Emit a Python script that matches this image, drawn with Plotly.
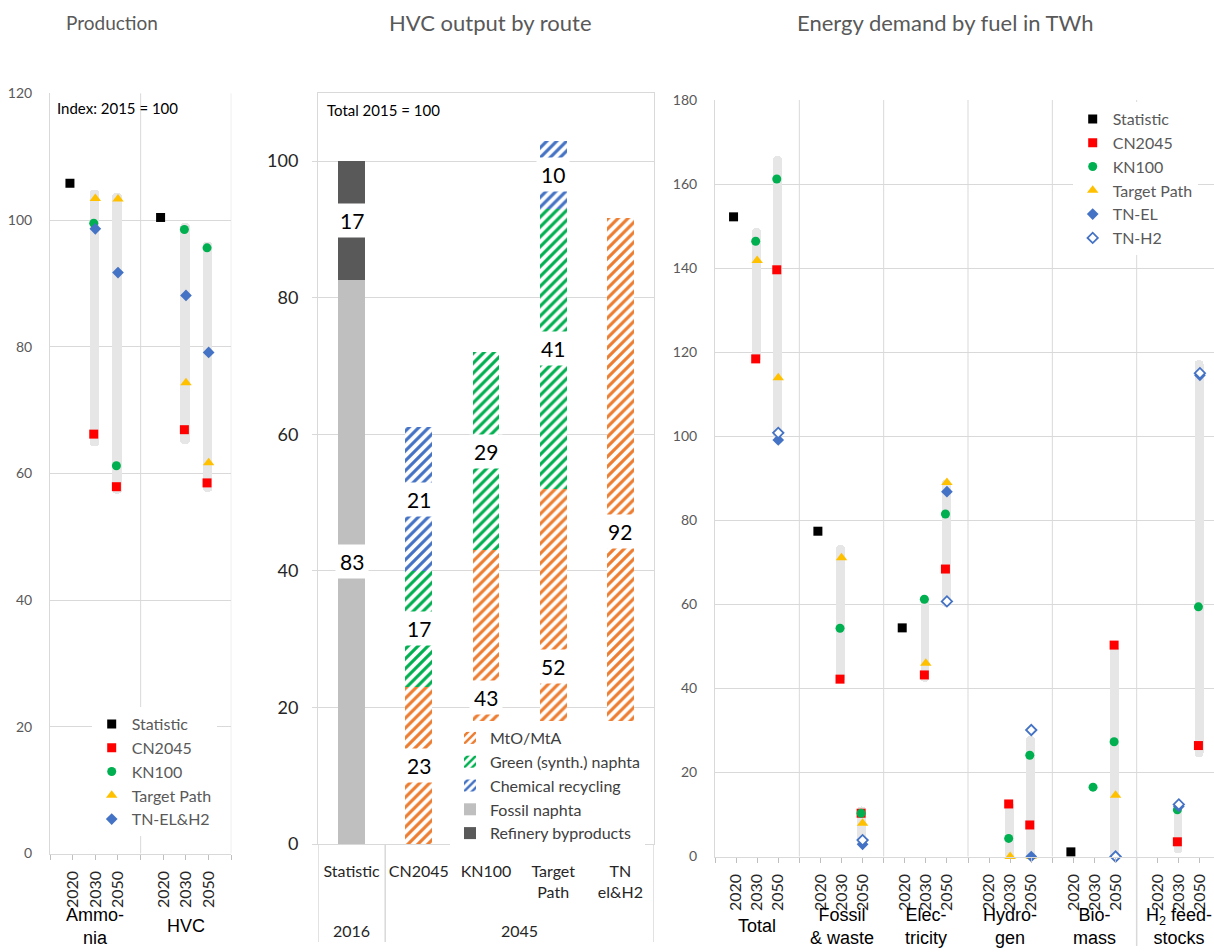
import plotly.graph_objects as go

W, H = 1214, 952

# ---------------- data ----------------
years = ["2020", "2030", "2050"]

# Panel 1: Production (Index 2015 = 100)
prod_groups = ["Ammo-<br>nia", "HVC"]
prod_statistic = [105.8, None, None, 100.4, None, None]
prod_cn2045 = [None, 66.2, 57.9, None, 66.9, 58.5]
prod_kn100 = [None, 99.5, 61.2, None, 98.5, 95.6]
prod_target = [None, 103.4, 103.3, None, 74.3, 61.7]
prod_tn_elh2 = [None, 98.6, 91.7, None, 88.1, 79.1]
prod_range_low = [None, 64.3, 56.8, None, 64.6, 57.1]
prod_range_high = [None, 104.8, 104.3, None, 99.5, 96.6]

# Panel 2: HVC output by route (Total 2015 = 100)
hvc_categories = ["Statistic", "CN2045", "KN100", "Target<br>Path", "TN<br>el&H2"]
hvc_periods = ["2016", "2045", "2045", "2045", "2045"]
hvc_mto = [None, 23, 43, 52, 91.6]
hvc_green = [None, 17, 29, 41, None]
hvc_chem = [None, 21, None, 10, None]
hvc_fossil = [82.6, None, None, None, None]
hvc_refinery = [17.4, None, None, None, None]

# Panel 3: Energy demand by fuel in TWh
energy_groups = ["Total", "Fossil<br>& waste", "Elec-<br>tricity", "Hydro-<br>gen",
                 "Bio-<br>mass", "H<sub>2</sub> feed-<br>stocks"]
energy_statistic = [152.2, None, None, 77.4, None, None, 54.4, None, None,
                    None, None, None, 1.1, None, None, None, None, None]
energy_cn2045 = [None, 118.4, 139.6, None, 42.2, 10.3, None, 43.2, 68.4,
                 None, 12.5, 7.5, None, None, 50.3, None, 3.5, 26.4]
energy_kn100 = [None, 146.4, 161.2, None, 54.3, 10.3, None, 61.2, 81.5,
                None, 4.3, 24.1, None, 16.5, 27.3, None, 11.1, 59.4]
energy_target = [None, 141.8, 113.9, None, 71.1, 7.9, None, 46.0, 89.0,
                 None, 0.0, 0.0, None, None, 14.6, None, None, None]
energy_tn_el = [None, None, 99.1, None, None, 2.9, None, None, 86.8,
                None, None, 0.0, None, None, None, None, 11.9, 114.5]
energy_tn_h2 = [None, None, 100.8, None, None, 3.9, None, None, 60.7,
                None, None, 30.1, None, None, 0.0, None, 12.4, 115.0]
energy_range_low = [None, 117.5, 99.5, None, 41.5, 2.3, None, 41.6, 59.4,
                    None, -1.2, -0.5, None, None, -0.8, None, 0.8, 23.6]
energy_range_high = [None, 149.5, 166.7, None, 74.1, 11.9, None, 61.8, 89.6,
                     None, 13.0, 28.7, None, None, 49.9, None, 12.3, 118.1]

# ---------------- styles ----------------
FONT = "Lato"
ARIAL = "Liberation Sans, Arial"
GRID = "#d9d9d9"
RANGE_COL = "#e6e6e6"
series_style = {
    "Statistic": dict(symbol="square", color="black", size=9, dx=-0.12),
    "CN2045": dict(symbol="square", color="#ff0000", size=9, dx=-0.07),
    "KN100": dict(symbol="circle", color="#00b050", size=9, dx=-0.07),
    "Target Path": dict(symbol="triangle-up", color="#ffc000", size=10, dx=0.0),
    "TN": dict(symbol="diamond", color="#4472c4", size=9, dx=0.0),
    "TN-H2": dict(symbol="diamond", color="white", size=8, dx=0.0, line="#4472c4"),
}


def slot_positions(n_groups):
    return [4 * g + 1 + j for g in range(n_groups) for j in range(3)]


fig = go.Figure()


def add_range_bars(xs, lows, highs, xa, ya):
    bx, by, bb = [], [], []
    for x, lo, hi in zip(xs, lows, highs):
        if lo is None or hi is None:
            continue
        bx.append(x - 0.04)
        by.append(hi - lo)
        bb.append(lo)
    fig.add_trace(go.Bar(x=bx, y=by, base=bb, width=0.42, xaxis=xa, yaxis=ya,
                         marker=dict(color=RANGE_COL, line=dict(width=0), cornerradius=5),
                         showlegend=False, hoverinfo="skip"))


def add_points(name, style_key, xs, vals, xa, ya, legend):
    st = series_style[style_key]
    px, py = [], []
    for x, v in zip(xs, vals):
        if v is None:
            continue
        px.append(x + st["dx"])
        py.append(v)
    mk = dict(symbol=st["symbol"], color=st["color"], size=st["size"])
    if "line" in st:
        mk["line"] = dict(color=st["line"], width=1.8)
    else:
        mk["line"] = dict(width=0)
    fig.add_trace(go.Scatter(x=px, y=py, mode="markers", name=name, marker=mk,
                             xaxis=xa, yaxis=ya, legend=legend, cliponaxis=False))


# Panel 1
p1x = slot_positions(len(prod_groups))
add_range_bars(p1x, prod_range_low, prod_range_high, "x", "y")
add_points("Statistic", "Statistic", p1x, prod_statistic, "x", "y", "legend")
add_points("CN2045", "CN2045", p1x, prod_cn2045, "x", "y", "legend")
add_points("KN100", "KN100", p1x, prod_kn100, "x", "y", "legend")
add_points("Target Path", "Target Path", p1x, prod_target, "x", "y", "legend")
add_points("TN-EL&H2", "TN", p1x, prod_tn_elh2, "x", "y", "legend")

# Panel 2
hx = list(range(len(hvc_categories)))
stack_series = [
    ("MtO/MtA", hvc_mto, "#ed7d31", True),
    ("Green (synth.) naphta", hvc_green, "#00b050", True),
    ("Chemical recycling", hvc_chem, "#4472c4", True),
    ("Fossil naphta", hvc_fossil, "#bfbfbf", False),
    ("Refinery byproducts", hvc_refinery, "#595959", False),
]
for name, vals, col, hatched in stack_series:
    if hatched:
        mk = dict(color="white", line=dict(width=0),
                  pattern=dict(shape="/", fgcolor=col, bgcolor="white", size=7,
                               solidity=0.45, fillmode="replace"))
    else:
        mk = dict(color=col, line=dict(width=0))
    fig.add_trace(go.Bar(x=hx, y=vals, name=name, width=0.4, marker=mk,
                         xaxis="x2", yaxis="y2", legend="legend2"))

# Panel 3
p3x = slot_positions(len(energy_groups))
add_range_bars(p3x, energy_range_low, energy_range_high, "x3", "y3")
add_points("Statistic", "Statistic", p3x, energy_statistic, "x3", "y3", "legend3")
add_points("CN2045", "CN2045", p3x, energy_cn2045, "x3", "y3", "legend3")
add_points("KN100", "KN100", p3x, energy_kn100, "x3", "y3", "legend3")
add_points("Target Path", "Target Path", p3x, energy_target, "x3", "y3", "legend3")
add_points("TN-EL", "TN", p3x, energy_tn_el, "x3", "y3", "legend3")
add_points("TN-H2", "TN-H2", p3x, energy_tn_h2, "x3", "y3", "legend3")

# ---------------- annotations ----------------
ann = []
# data labels in panel 2
for i in hx:
    cum = 0.0
    for name, vals, col, hatched in stack_series:
        v = vals[i]
        if v:
            ann.append(dict(x=i, y=cum + v / 2, xref="x2", yref="y2", text=str(round(v)),
                            showarrow=False, bgcolor="white", borderpad=4,
                            font=dict(size=21, color="black", family=FONT)))
            cum += v

# panel titles
for txt, cx, fs in [("Production", 112, 19), ("HVC output by route", 490, 22),
                    ("Energy demand by fuel in TWh", 945, 22)]:
    ann.append(dict(x=cx / W, y=1 - 22 / H, xref="paper", yref="paper", text=txt,
                    showarrow=False, xanchor="center", yanchor="middle",
                    font=dict(size=fs, color="#595959", family=FONT)))

ann.append(dict(x=0, y=1, xref="x domain", yref="y domain", text="Index: 2015 = 100",
                showarrow=False, xanchor="left", yanchor="top", xshift=5, yshift=-4,
                font=dict(size=15, color="black", family=FONT)))
ann.append(dict(x=0, y=1, xref="x2 domain", yref="y2 domain", text="Total 2015 = 100",
                showarrow=False, xanchor="left", yanchor="top", xshift=7, yshift=-6,
                font=dict(size=15, color="black", family=FONT)))

# group labels for panel 1 and 3
GROUP_Y = 1 - 926 / H
for g, lab in enumerate(prod_groups):
    ann.append(dict(x=4 * g + 2, y=GROUP_Y, xref="x", yref="paper", text=lab, showarrow=False,
                    xanchor="center", yanchor="middle",
                    font=dict(size=18, color="black", family=ARIAL)))
for g, lab in enumerate(energy_groups):
    ann.append(dict(x=4 * g + 2, y=GROUP_Y, xref="x3", yref="paper", text=lab, showarrow=False,
                    xanchor="center", yanchor="middle",
                    font=dict(size=18, color="black", family=ARIAL)))

# period labels for panel 2
periods = []
for i, p in enumerate(hvc_periods):
    if not periods or periods[-1][0] != p:
        periods.append([p, i, i])
    else:
        periods[-1][2] = i
for p, i0, i1 in periods:
    ann.append(dict(x=(i0 + i1) / 2, y=1 - 930 / H, xref="x2", yref="paper", text=p,
                    showarrow=False, xanchor="center", yanchor="middle",
                    font=dict(size=16, color="#262626", family=FONT)))

# ---------------- shapes ----------------
shapes = []
for g in range(1, len(prod_groups) + 1):
    shapes.append(dict(type="line", xref="x", yref="y domain", x0=4 * g, x1=4 * g, y0=0, y1=1,
                       line=dict(color=GRID, width=1), layer="below"))
for g in range(1, len(energy_groups) + 1):
    shapes.append(dict(type="line", xref="x3", yref="y3 domain", x0=4 * g, x1=4 * g, y0=0, y1=1,
                       line=dict(color=GRID, width=1), layer="below"))
# divider below axis in panel 3 (between Bio-mass and H2 feed-stocks)
y3_bottom = 1 - 856.5 / H
shapes.append(dict(type="line", xref="x3", yref="paper", x0=20, x1=20, y0=y3_bottom, y1=1 - 946 / H,
                   line=dict(color=GRID, width=1.5)))
# category-group dividers for panel 2
y2_bottom = 1 - 844 / H
bounds = [periods[0][1] - 0.5] + [p[2] + 0.5 for p in periods]
for b in bounds:
    shapes.append(dict(type="line", xref="x2", yref="paper", x0=b, x1=b, y0=y2_bottom,
                       y1=1 - 942 / H, line=dict(color=GRID, width=1.5)))

xyear = dict(tickangle=-90, ticks="outside", ticklen=5, tickcolor="#bfbfbf", showline=True,
             linecolor=GRID, showgrid=False, zeroline=False, ticklabelstandoff=5,
             tickfont=dict(size=16, color="#262626", family=FONT),
             minor=dict(ticks="outside", ticklen=5, tickcolor="#bfbfbf", dtick=1, tick0=0,
                        showgrid=False))
ygray = dict(showgrid=True, gridcolor=GRID, showline=True, linecolor=GRID, zeroline=False,
             tickfont=dict(size=14, color="#595959", family=FONT), ticks="", dtick=20, tick0=0,
             ticklabelstandoff=14)

fig.update_layout(
    width=W, height=H, margin=dict(l=0, r=0, t=0, b=0, autoexpand=False),
    paper_bgcolor="white", plot_bgcolor="white",
    font=dict(family=FONT),
    barmode="stack", showlegend=True,
    xaxis=dict(domain=[50 / W, 231.3 / W], range=[0, 4 * len(prod_groups)], anchor="y",
               tickvals=p1x, ticktext=years * len(prod_groups), **xyear),
    yaxis=dict(domain=[1 - 853.5 / H, 1 - 93.3 / H], range=[0, 120], anchor="x", **ygray),
    xaxis2=dict(domain=[318 / W, 654 / W], range=[-0.5, len(hvc_categories) - 0.5], anchor="y2",
                tickvals=hx, ticktext=hvc_categories, ticks="", showline=True, mirror=True,
                linecolor=GRID, showgrid=False, zeroline=False, ticklabelstandoff=13,
                tickfont=dict(size=16, color="#262626", family=FONT)),
    yaxis2=dict(domain=[1 - 844 / H, 1 - 92.7 / H], range=[0, 110], anchor="x2",
                tickvals=[0, 20, 40, 60, 80, 100], showgrid=True, gridcolor=GRID,
                showline=True, mirror=True, linecolor=GRID, zeroline=False,
                ticks="outside", ticklen=5, tickcolor=GRID, ticklabelstandoff=10,
                tickfont=dict(size=18, color="#262626", family=FONT)),
    xaxis3=dict(domain=[715 / W, 1.0], range=[0, 24 * (W - 715) / (1221 - 715)], anchor="y3",
                tickvals=p3x, ticktext=years * len(energy_groups), **xyear),
    yaxis3=dict(domain=[1 - 856.5 / H, 1 - 100 / H], range=[0, 180], anchor="x3", **ygray),
    legend=dict(x=91.7 / W, y=1 - 707 / H, xanchor="left", yanchor="top", bgcolor="white",
                borderwidth=0, traceorder="normal",
                font=dict(size=16, color="#595959", family=FONT)),
    legend2=dict(x=450 / W, y=1 - 721 / H, xanchor="left", yanchor="top", bgcolor="white",
                 borderwidth=0, traceorder="normal",
                 font=dict(size=16, color="#404040", family=FONT)),
    legend3=dict(x=1072.7 / W, y=1 - 102 / H, xanchor="left", yanchor="top", bgcolor="white",
                 borderwidth=0, traceorder="normal",
                 font=dict(size=16, color="#595959", family=FONT)),
    annotations=ann, shapes=shapes,
)

fig.write_html("out.html")
